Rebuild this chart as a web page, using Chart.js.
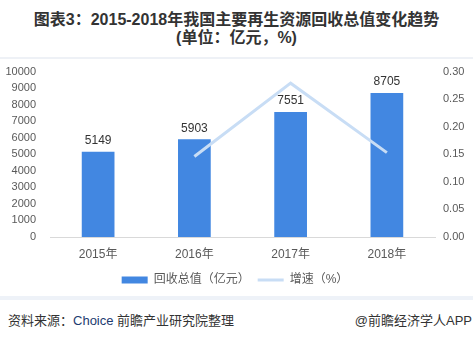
<!DOCTYPE html>
<html>
<head>
<meta charset="utf-8">
<script src="https://cdn.jsdelivr.net/npm/chart.js@4"></script>
<style>
  body { margin: 0; width: 473px; height: 339px; background: #fff; overflow: hidden;
         font-family: 'Liberation Sans', 'Noto Sans CJK SC', sans-serif; position: relative; }
  #title { position: absolute; top: 11px; left: 0; width: 473px; text-align: center;
           font-weight: bold; font-size: 16px; line-height: 18px; color: #333; }
  #sep1 { position: absolute; top: 57px; left: 0; width: 473px; height: 2px; background: #eef1f6; }
  #box { position: absolute; top: 51px; left: 0; width: 473px; height: 245px; }
  #sep2 { position: absolute; top: 296px; left: 0; width: 473px; height: 4px; background: #eef2f8; }
  #src { position: absolute; top: 310px; left: 8px; font-size: 13px; color: #333; }
  #src span { color: #1d3b70; }
  #app { position: absolute; top: 310px; right: 1px; font-size: 13px; color: #333; }
</style>
</head>
<body>
<div id="title">图表3：2015-2018年我国主要再生资源回收总值变化趋势<br>(单位：亿元，%)</div>
<div id="sep1"></div>
<div id="box"><canvas id="c" width="473" height="245"></canvas></div>
<div id="sep2"></div>
<div id="src">资料来源：<span>Choice</span> 前瞻产业研究院整理</div>
<div id="app">@前瞻经济学人APP</div>
<script>
const years = ['2015年', '2016年', '2017年', '2018年'];
const totalValue = [5149, 5903, 7551, 8705];
const growth = [null, 0.146, 0.279, 0.153];

const font = "'Liberation Sans', 'Noto Sans CJK SC', sans-serif";

// value labels above each bar
const barLabels = {
  id: 'barLabels',
  afterDatasetsDraw(chart) {
    const ctx = chart.ctx;
    const meta = chart.getDatasetMeta(1);
    ctx.save();
    ctx.font = '12px ' + font;
    ctx.fillStyle = '#333';
    ctx.textAlign = 'center';
    ctx.textBaseline = 'bottom';
    meta.data.forEach((bar, i) => {
      ctx.fillText(totalValue[i], bar.x, bar.y - 5);
    });
    ctx.restore();
  }
};

const data = {
  labels: years,
  datasets: [{
    type: 'line',
    label: '增速（%）',
    data: growth,
    yAxisID: 'y1',
    borderColor: '#c8ddf5',
    backgroundColor: '#c8ddf5',
    borderWidth: 3,
    pointRadius: 0,
    pointStyle: 'line',
    order: 0
  }, {
    type: 'bar',
    label: '回收总值（亿元）',
    data: totalValue,
    yAxisID: 'y',
    backgroundColor: '#4287e1',
    barPercentage: 0.34,
    categoryPercentage: 1,
    pointStyle: 'rect',
    order: 1
  }]
};

const config = {
  data: data,
  options: {
    responsive: false,
    animation: false,
    layout: { padding: { left: 4, right: 7, top: 4, bottom: 0 } },
    plugins: {
      legend: {
        position: 'bottom',
        reverse: true,
        labels: {
          usePointStyle: true,
          pointStyleWidth: 26,
          boxHeight: 7,
          color: '#595959',
          padding: 8,
          font: { size: 12, family: font }
        }
      },
      tooltip: { enabled: false }
    },
    scales: {
      x: {
        grid: { display: false, drawTicks: false },
        border: { color: '#d9d9d9' },
        afterFit: s => { s.height = 29; },
        ticks: { color: '#595959', font: { size: 12, family: font }, padding: 10 }
      },
      y: {
        position: 'left',
        min: 0, max: 10000,
        grid: { display: false, drawTicks: false },
        border: { display: false },
        afterFit: s => { s.width = 46; },
        ticks: {
          stepSize: 1000, autoSkip: false, color: '#595959', padding: 14,
          font: { size: 11, family: font },
          callback: v => String(v)
        }
      },
      y1: {
        position: 'right',
        min: 0, max: 0.3,
        grid: { display: false, drawTicks: false },
        border: { display: false },
        afterFit: s => { s.width = 31; },
        ticks: {
          stepSize: 0.05, autoSkip: false, color: '#595959', padding: 8,
          font: { size: 11, family: font },
          callback: v => v.toFixed(2)
        }
      }
    }
  },
  plugins: [barLabels]
};

let c = document.getElementById('c').getContext('2d');
new Chart(c, config);
</script>
</body>
</html>
